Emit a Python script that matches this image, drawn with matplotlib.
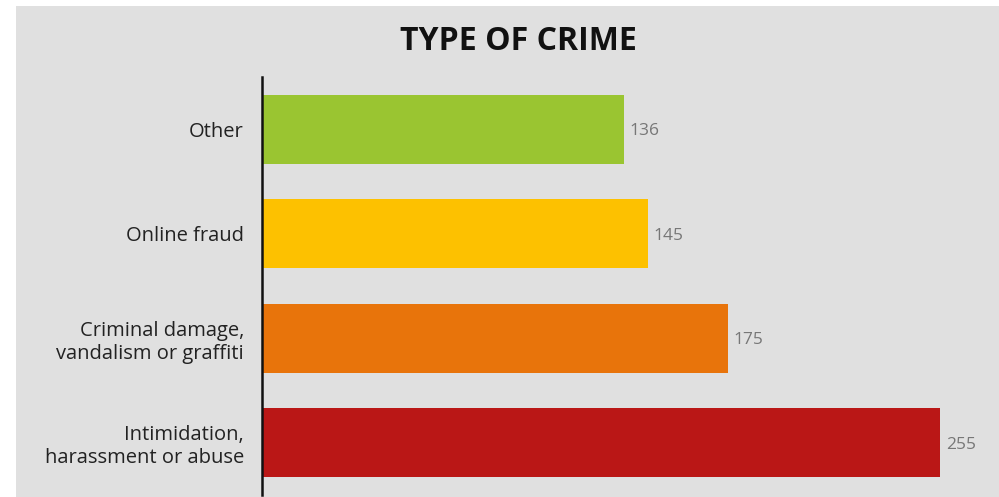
import matplotlib.pyplot as plt
from matplotlib.patches import Rectangle

categories = ["Other", "Online fraud", "Criminal damage,\nvandalism or graffiti",
              "Intimidation,\nharassment or abuse"]
counts = [136, 145, 175, 255]
colors = ["#9ac531", "#fdc100", "#e8740b", "#ba1716"]

BG = "#e0e0e0"


def plot_bars():
    fig = plt.figure(figsize=(9.99, 4.97), dpi=100)
    fig.patch.set_facecolor("white")
    fig.patches.append(Rectangle((16 / 999, 0), 1 - 16 / 999, 1 - 6 / 497,
                                 transform=fig.transFigure, facecolor=BG,
                                 edgecolor="none", zorder=-10))

    ax = fig.add_axes([262 / 999, 2 / 497, 1 - 262 / 999, (495 - 77) / 497])
    ax.set_facecolor(BG)

    ypos = range(len(categories))
    ax.barh(ypos, counts, height=0.665, color=colors)
    for y, v in zip(ypos, counts):
        ax.text(v + 2.2, y + 0.02, str(v), va="center", ha="left",
                fontsize=12.5, color="#777777", family="Open Sans")

    ax.set_yticks(list(ypos))
    ax.set_yticklabels(categories, fontsize=14.5, color="#222222",
                       family="Open Sans", linespacing=1.2)
    ax.tick_params(axis="y", length=0, pad=13)
    ax.set_xticks([])
    ax.set_xlim(0, 277)
    ax.set_ylim(3.5, -0.5)

    for s in ["top", "right", "bottom"]:
        ax.spines[s].set_visible(False)
    ax.spines["left"].set_linewidth(1.8)
    ax.spines["left"].set_color("#111111")

    fig.text(518 / 999, 1 - 42 / 497, "TYPE OF CRIME", ha="center", va="center",
             fontsize=23, fontweight="bold", color="#111111", family="Open Sans")
    return fig


if __name__ == "__main__":
    fig = plot_bars()
    fig.savefig("out.png", dpi=100)
